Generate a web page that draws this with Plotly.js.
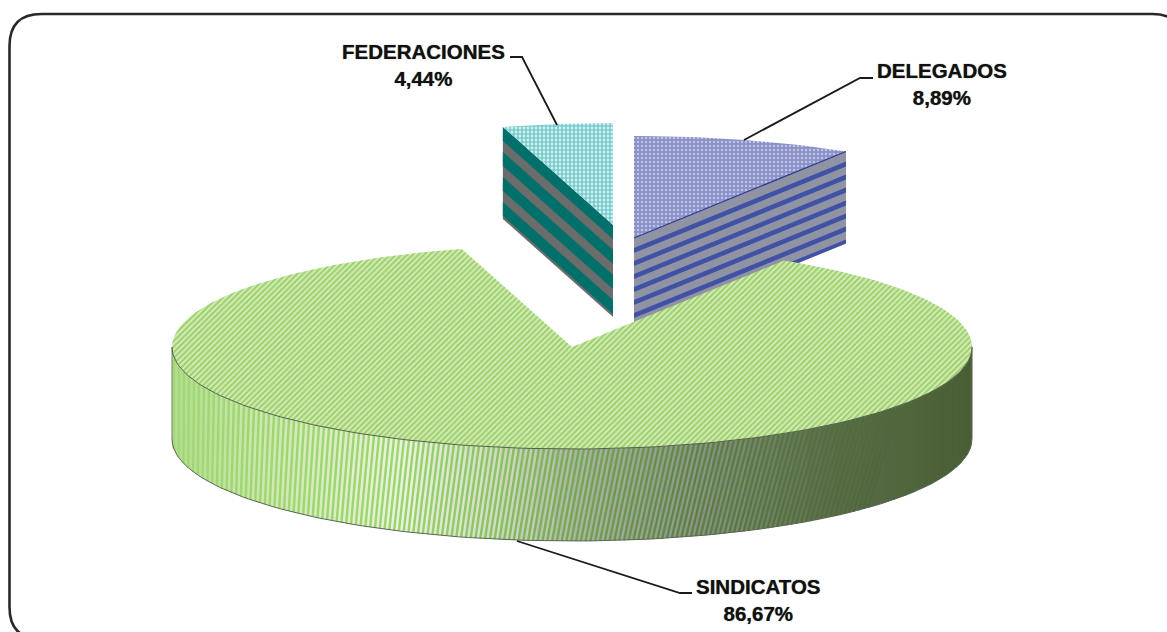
<!DOCTYPE html>
<html>
<head>
<meta charset="utf-8">
<script src="https://cdn.plot.ly/plotly-3.0.1.min.js"></script>
<style>html,body{margin:0;padding:0;background:#fff}#chart{width:1167px;height:632px}</style>
</head>
<body>
<div id="chart"></div>
<script>
// Data
const categories = ["DELEGADOS", "FEDERACIONES", "SINDICATOS"];
const percentages = [8.89, 4.44, 86.67];

// Projection of the tilted pie (page pixels are used as the axis units)
const RX = 400, RY = 102, DEPTH = 92;
const centres = { DELEGADOS: [634, 238], FEDERACIONES: [613, 225], SINDICATOS: [572, 347] };
const total = percentages.reduce((a, b) => a + b, 0);
const toAngle = v => v / total * 2 * Math.PI;
const aDel = toAngle(percentages[0]);
const aFed = toAngle(percentages[1]);

function rim(c, t, d) { return [c[0] + RX * Math.sin(t), c[1] - RY * Math.cos(t) + (d || 0)]; }
function arc(c, a0, a1, d, n) {
  const pts = [];
  for (let i = 0; i <= n; i++) pts.push(rim(c, a0 + (a1 - a0) * i / n, d));
  return pts;
}
const traces = [];
function poly(pts, opt) {
  traces.push(Object.assign({
    type: "scatter", mode: "lines", x: pts.map(p => p[0]), y: pts.map(p => p[1]),
    fill: "toself", hoverinfo: "skip", showlegend: false, line: { width: 0 }
  }, opt));
}
function stroke(pts, color, width) {
  traces.push({ type: "scatter", mode: "lines", x: pts.map(p => p[0]), y: pts.map(p => p[1]),
    hoverinfo: "skip", showlegend: false, line: { color: color, width: width } });
}
// band on a radial side face, between depths d0 and d1
function band(c0, a, d0, d1, color) {
  const tip = rim(c0, a, 0);
  poly([[c0[0], c0[1] + d0], [tip[0], tip[1] + d0], [tip[0], tip[1] + d1], [c0[0], c0[1] + d1]],
    { fillcolor: color });
}

// FEDERACIONES wedge
const cF = centres.FEDERACIONES;
band(cF, -aFed, 0, DEPTH, "#6a6d6c");
for (let d = 0; d < DEPTH; d += 25) band(cF, -aFed, d, Math.min(d + 14, DEPTH), "#02706a");
poly([cF].concat(arc(cF, -aFed, 0, 0, 16)), {
  fillcolor: "#e6f6f6",
  fillpattern: { shape: "+", fgcolor: "#5cc3c6", bgcolor: "#d3eeee", size: 4, solidity: 0.5 }
});

// DELEGADOS wedge
const cD = centres.DELEGADOS;
band(cD, aDel, 0, DEPTH, "#8f93a3");
for (let d = 10; d < DEPTH; d += 13) band(cD, aDel, d, Math.min(d + 5, DEPTH), "#4152a6");
poly([cD].concat(arc(cD, 0, aDel, 0, 24)), {
  fillcolor: "#9298cc",
  fillpattern: { shape: ".", fgcolor: "#c0c4e4", bgcolor: "#8a90c8", size: 4, solidity: 0.3 }
});
stroke([cD, rim(cD, aDel, 0)], "#2a3a8c", 1.2);

// SINDICATOS wedge: side wall, shaded from left to right
const cS = centres.SINDICATOS;
const shadeStops = [
  [172, [176, 222, 138], [163, 215, 122]],
  [260, [205, 232, 176], [159, 214, 111]],
  [400, [232, 244, 220], [157, 213, 111]],
  [500, [205, 220, 190], [140, 194, 101]],
  [570, [170, 184, 164], [122, 170, 85]],
  [700, [138, 149, 133], [95, 130, 69]],
  [820, [94, 112, 80], [84, 112, 62]],
  [900, [80, 102, 60], [80, 102, 60]],
  [971, [74, 94, 54], [74, 94, 54]]
];
function shade(x, idx) {
  for (let i = 1; i < shadeStops.length; i++) {
    if (x <= shadeStops[i][0]) {
      const a = shadeStops[i - 1], b = shadeStops[i], f = (x - a[0]) / (b[0] - a[0]);
      const m = a[idx].map((v, k) => Math.round(v + (b[idx][k] - v) * Math.max(0, f)));
      return "rgb(" + m.join(",") + ")";
    }
  }
  return "rgb(" + shadeStops[shadeStops.length - 1][idx].join(",") + ")";
}
const SEG = 70;
for (let i = 0; i < SEG; i++) {
  const a0 = Math.PI / 2 + Math.PI * i / SEG, a1 = Math.PI / 2 + Math.PI * (i + 1.25) / SEG;
  const top = arc(cS, a0, Math.min(a1, 1.5 * Math.PI), 0, 3);
  const bot = arc(cS, Math.min(a1, 1.5 * Math.PI), a0, DEPTH, 3);
  const xm = rim(cS, (a0 + a1) / 2)[0];
  poly(top.concat(bot), { fillcolor: shade(xm, 1) });
}
// slanted stripes over the wall
const STRIPE = 5;
for (let x = 174; x < 900; x += STRIPE) {
  const shift = 34 * (x - 172) / 800;
  const xb = Math.max(172, x - shift);
  const tTop = Math.PI - Math.asin((x - cS[0]) / RX);
  const tBot = Math.PI - Math.asin((xb - cS[0]) / RX);
  stroke([rim(cS, tTop, 0), rim(cS, tBot, DEPTH)], shade(x, 2), 2.4);
}
stroke(arc(cS, Math.PI / 2, 1.5 * Math.PI, DEPTH, 120), "#5c6658", 1);
stroke([rim(cS, 1.5 * Math.PI, 0), rim(cS, 1.5 * Math.PI, DEPTH)], "#6f7f63", 1);
stroke([rim(cS, Math.PI / 2, 0), rim(cS, Math.PI / 2, DEPTH)], "#46583a", 1);

// SINDICATOS top face
poly([cS].concat(arc(cS, aDel, 2 * Math.PI - aFed, 0, 200)).concat([cS]), {
  fillcolor: "#b8de90",
  fillpattern: { shape: "/", fgcolor: "#9ad06c", bgcolor: "#d6ecb6", size: 4, solidity: 0.5 }
});
stroke(arc(cS, Math.PI / 2, 1.5 * Math.PI, 0, 120), "#55604e", 1);

// Labels
const fmt = v => v.toFixed(2).replace(".", ",") + "%";
const labelFont = { family: "Liberation Sans, Arial, sans-serif", size: 20.5, color: "#111111",
  shadow: "0 0 1px rgba(0,0,0,0.7)" };
const labelPos = { DELEGADOS: [942, 84], FEDERACIONES: [423, 65], SINDICATOS: [758, 600] };
const annotations = categories.map((c, i) => ({
  x: labelPos[c][0], y: labelPos[c][1], xref: "x", yref: "y", showarrow: false,
  text: "<b>" + c + "</b><br><b>" + fmt(percentages[i]) + "</b>",
  font: labelFont, align: "center", xanchor: "center", yanchor: "middle"
}));

// Leader lines and the rounded frame
const leader = d => ({ type: "path", path: d, xref: "x", yref: "y", line: { color: "#1a1a1a", width: 1.8 } });
const shapes = [
  leader("M 510 57 L 522 57 L 557 125"),
  leader("M 744 140 L 860 78 L 873 78"),
  leader("M 517 541 L 680 593 L 692 593"),
  { type: "path", xref: "x", yref: "y", line: { color: "#2b2728", width: 2.6 },
    path: "M 9.5 46 Q 9.5 14 41.5 14 L 1152 14 Q 1184 14 1184 46 L 1184 607 Q 1184 639 1152 639 L 41.5 639 Q 9.5 639 9.5 607 Z" }
];

const hidden = { visible: false, fixedrange: true };
Plotly.newPlot("chart", traces, {
  width: 1167, height: 632,
  margin: { l: 0, r: 0, t: 0, b: 0 },
  paper_bgcolor: "#ffffff", plot_bgcolor: "#ffffff",
  xaxis: Object.assign({ range: [0, 1167] }, hidden),
  yaxis: Object.assign({ range: [632, 0] }, hidden),
  showlegend: false,
  annotations: annotations,
  shapes: shapes
}, { displayModeBar: false, staticPlot: true });
</script>
</body>
</html>
